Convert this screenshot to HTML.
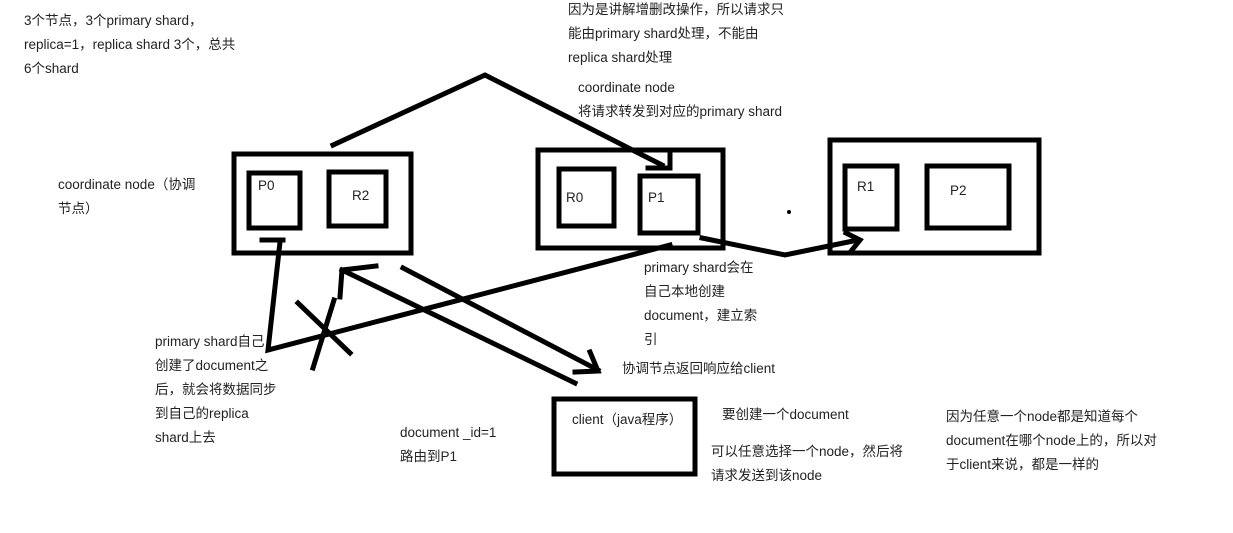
<!DOCTYPE html>
<html><head><meta charset="utf-8"><style>
body{margin:0;background:#fff;width:1233px;height:533px;overflow:hidden;position:relative;font-family:"Liberation Sans","Noto Sans CJK SC",sans-serif;font-size:13.5px;color:#222}
.t{position:absolute;line-height:24px;white-space:nowrap}
svg{position:absolute;left:0;top:0}
</style></head><body>
<svg width="1233" height="533" fill="none" stroke="#000" stroke-width="5" stroke-linecap="square">
<rect x="234" y="154" width="177" height="99"/>
<rect x="249" y="173" width="51" height="55"/>
<rect x="329" y="172" width="57" height="54"/>
<rect x="538" y="150" width="185" height="98"/>
<rect x="559" y="169" width="55" height="57"/>
<rect x="640" y="176" width="58" height="57"/>
<rect x="830" y="140" width="209" height="113"/>
<rect x="845" y="166" width="52" height="63"/>
<rect x="927" y="166" width="82" height="62"/>
<rect x="554" y="399" width="141" height="75"/>
<polyline points="333,145 485,75 662,165"/>
<polyline points="648,168 670,168 670,150"/>
<polyline points="702,238 785,255 858,240"/>
<polyline points="846,233 860,240 852,250"/>
<polyline points="670,245 268,350 280,242"/>
<line x1="262" y1="240" x2="283" y2="240"/>
<line x1="298" y1="303" x2="350" y2="353"/>
<line x1="334" y1="300" x2="313" y2="368"/>
<line x1="575" y1="383" x2="342" y2="270"/>
<polyline points="376,266 342,270 340,297"/>
<line x1="403" y1="268" x2="598" y2="370"/>
<polyline points="590,352 598,371 575,372"/>
<circle cx="789" cy="212" r="2" fill="#000" stroke="none"/>
</svg>
<div class="t" style="left:24px;top:9px">3个节点，3个primary shard，<br>replica=1，replica shard 3个，总共<br>6个shard</div>
<div class="t" style="left:568px;top:-2px">因为是讲解增删改操作，所以请求只<br>能由primary shard处理，不能由<br>replica shard处理</div>
<div class="t" style="left:578px;top:76px">coordinate node<br>将请求转发到对应的primary shard</div>
<div class="t" style="left:58px;top:173px">coordinate node（协调<br>节点）</div>
<div class="t" style="left:258px;top:174px">P0</div>
<div class="t" style="left:352px;top:184px">R2</div>
<div class="t" style="left:566px;top:186px">R0</div>
<div class="t" style="left:648px;top:186px">P1</div>
<div class="t" style="left:857px;top:175px">R1</div>
<div class="t" style="left:950px;top:179px">P2</div>
<div class="t" style="left:644px;top:256px">primary shard会在<br>自己本地创建<br>document，建立索<br>引</div>
<div class="t" style="left:622px;top:357px">协调节点返回响应给client</div>
<div class="t" style="left:155px;top:330px">primary shard自己<br>创建了document之<br>后，就会将数据同步<br>到自己的replica<br>shard上去</div>
<div class="t" style="left:572px;top:408px">client（java程序）</div>
<div class="t" style="left:722px;top:403px">要创建一个document</div>
<div class="t" style="left:711px;top:440px">可以任意选择一个node，然后将<br>请求发送到该node</div>
<div class="t" style="left:400px;top:421px">document _id=1<br>路由到P1</div>
<div class="t" style="left:946px;top:405px">因为任意一个node都是知道每个<br>document在哪个node上的，所以对<br>于client来说，都是一样的</div>
</body></html>
